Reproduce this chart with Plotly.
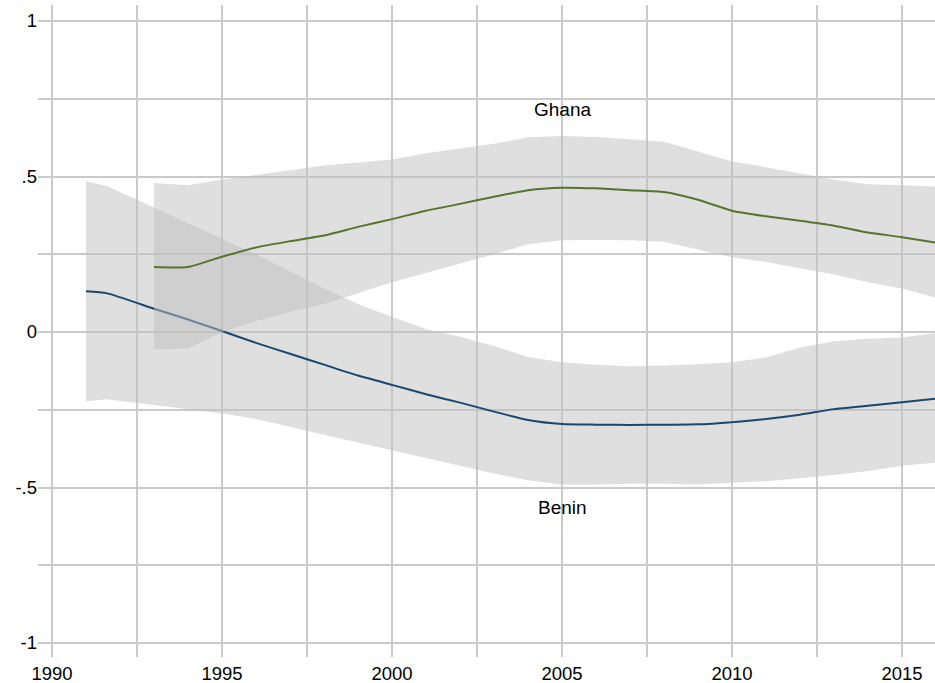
import plotly.graph_objects as go

# Benin: fitted line and confidence band
benin_years = [1991, 1991.6, 1993, 1994, 1995, 1996, 1997, 1998, 1999, 2000, 2001, 2002, 2003,
               2004, 2005, 2006, 2007, 2008, 2009, 2010, 2011, 2012, 2013, 2014, 2015, 2016]
benin_fit = [0.131, 0.125, 0.075, 0.040, 0.003, -0.035, -0.070, -0.105, -0.140, -0.170, -0.200,
             -0.227, -0.256, -0.283, -0.296, -0.298, -0.299, -0.298, -0.297, -0.290, -0.280,
             -0.266, -0.248, -0.237, -0.226, -0.214]
benin_upper = [0.485, 0.470, 0.400, 0.350, 0.300, 0.250, 0.195, 0.140, 0.090, 0.048, 0.010,
               -0.015, -0.045, -0.080, -0.097, -0.105, -0.110, -0.108, -0.104, -0.097, -0.082,
               -0.050, -0.030, -0.022, -0.018, -0.003]
benin_lower = [-0.223, -0.216, -0.235, -0.248, -0.262, -0.280, -0.305, -0.330, -0.355, -0.380,
               -0.405, -0.430, -0.455, -0.477, -0.490, -0.490, -0.488, -0.488, -0.490, -0.485,
               -0.480, -0.470, -0.460, -0.447, -0.430, -0.420]

# Ghana: fitted line and confidence band
ghana_years = [1993, 1994, 1995, 1996, 1997, 1998, 1999, 2000, 2001, 2002, 2003, 2004, 2005,
               2006, 2007, 2008, 2009, 2010, 2011, 2012, 2013, 2014, 2015, 2016]
ghana_fit = [0.209, 0.209, 0.242, 0.272, 0.292, 0.310, 0.338, 0.363, 0.390, 0.412, 0.435, 0.456,
             0.464, 0.462, 0.456, 0.450, 0.425, 0.390, 0.372, 0.358, 0.342, 0.320, 0.305, 0.287]
ghana_upper = [0.479, 0.472, 0.490, 0.505, 0.520, 0.535, 0.545, 0.555, 0.575, 0.590, 0.605, 0.626,
               0.630, 0.627, 0.620, 0.612, 0.580, 0.548, 0.530, 0.510, 0.490, 0.475, 0.472, 0.468]
ghana_lower = [-0.056, -0.053, 0.000, 0.035, 0.065, 0.090, 0.125, 0.160, 0.190, 0.220, 0.250,
               0.282, 0.295, 0.296, 0.295, 0.290, 0.265, 0.240, 0.225, 0.205, 0.185, 0.160,
               0.140, 0.110]

# Axis ticks
x_tickvals = [1990, 1992.5, 1995, 1997.5, 2000, 2002.5, 2005, 2007.5, 2010, 2012.5, 2015]
x_ticktext = ["1990", "", "1995", "", "2000", "", "2005", "", "2010", "", "2015"]
y_tickvals = [-1, -0.75, -0.5, -0.25, 0, 0.25, 0.5, 0.75, 1]
y_ticktext = ["-1", "", "-.5", "", "0", "", ".5", "", "1"]

# Series labels
label_names = ["Ghana", "Benin"]
label_x = [2005, 2005]
label_y = [0.717, -0.563]

BAND = "rgba(192,192,192,0.5)"
NAVY = "#1a476f"
GREEN = "#55752f"
FONT = "Liberation Sans, Arial, Helvetica, sans-serif"


def band(years, upper, lower):
    return go.Scatter(
        x=list(years) + list(years)[::-1],
        y=list(upper) + list(lower)[::-1],
        fill="toself", fillcolor=BAND, mode="none",
        hoverinfo="skip", showlegend=False,
    )


def fit_line(years, values, color, name):
    return go.Scatter(x=years, y=values, mode="lines", name=name, showlegend=False,
                      line=dict(color=color, width=2, shape="spline", smoothing=0.5))


fig = go.Figure()
fig.add_trace(band(benin_years, benin_upper, benin_lower))
fig.add_trace(fit_line(benin_years, benin_fit, NAVY, "Benin"))
fig.add_trace(band(ghana_years, ghana_upper, ghana_lower))
fig.add_trace(fit_line(ghana_years, ghana_fit, GREEN, "Ghana"))

for name, lx, ly in zip(label_names, label_x, label_y):
    fig.add_annotation(x=lx, y=ly, text=name, showarrow=False,
                       font=dict(family=FONT, size=19, color="#000000"))

px_per_year = 34.0
x_left = 1990 - 14 / px_per_year
x_right = 1990 + 883 / px_per_year
px_per_unit = 310.9
y_top = 1 + 16 / px_per_unit
y_bottom = -1 - 14 / px_per_unit

fig.update_layout(
    width=935, height=683,
    margin=dict(l=38, r=0, t=5, b=26),
    paper_bgcolor="white", plot_bgcolor="white",
    font=dict(family=FONT, size=18, color="#000000"),
    xaxis=dict(range=[x_left, x_right], tickvals=x_tickvals, ticktext=x_ticktext,
               showgrid=True, gridcolor="#cacaca", gridwidth=1.5, zeroline=False,
               showline=False, ticks="", tickfont=dict(size=18.5), ticklabelstandoff=3),
    yaxis=dict(range=[y_bottom, y_top], tickvals=y_tickvals, ticktext=y_ticktext,
               showgrid=True, gridcolor="#cacaca", gridwidth=1.5, zeroline=False,
               showline=False, ticks="", tickfont=dict(size=18.5)),
)

fig.write_html("out.html")
